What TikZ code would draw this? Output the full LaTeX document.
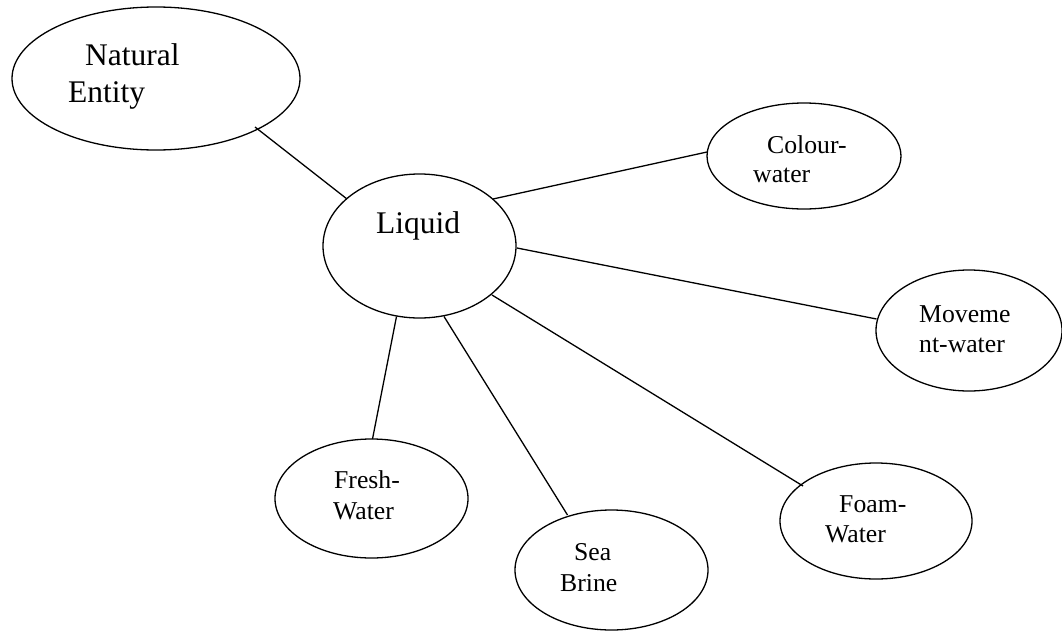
\documentclass[tikz,border=0pt]{standalone}
\usepackage{fontspec}
\setmainfont{Liberation Serif}
\usetikzlibrary{shapes.geometric,calc}
\begin{document}
\begin{tikzpicture}[x=1pt,y=-1pt,
  bubble/.style={draw=black, ellipse, line width=1.3pt, inner sep=0pt, outer sep=0pt},
  bigtxt/.style={anchor=base west, inner sep=0pt, font=\fontsize{31.5}{37}\selectfont},
  smalltxt/.style={anchor=base west, inner sep=0pt, font=\fontsize{25.7}{30}\selectfont},
  link/.style={draw=black, line width=1.3pt}]
\useasboundingbox (0,0) rectangle (1062,632);
% ellipses
\node[bubble, minimum width=288pt, minimum height=143pt] (ne) at (156,78.5) {};
\node[bubble, minimum width=193pt, minimum height=144pt] (liq) at (419.5,246) {};
\node[bubble, minimum width=194pt, minimum height=106pt] (col) at (804,156) {};
\node[bubble, minimum width=186pt, minimum height=121pt] (mov) at (969,330.5) {};
\node[bubble, minimum width=193pt, minimum height=119pt] (fre) at (371.5,498.5) {};
\node[bubble, minimum width=193pt, minimum height=120pt] (sea) at (611.5,570) {};
\node[bubble, minimum width=192pt, minimum height=116pt] (foa) at (876,521) {};
% texts
\node[bigtxt] (t1) at (85,65) {Natural};
\node[bigtxt] (t2) at (68,102) {Entity};
\node[bigtxt] (t3) at (376,233) {Liquid};
\node[smalltxt] (t4) at (767,153) {Colour-};
\node[smalltxt] (t5) at (753,182) {water};
\node[smalltxt] (t6) at (919,322) {Moveme};
\node[smalltxt] (t7) at (919,352) {nt-water};
\node[smalltxt] (t8) at (334,488) {Fresh-};
\node[smalltxt] (t9) at (333,519) {Water};
\node[smalltxt] (t10) at (574,560) {Sea};
\node[smalltxt] (t11) at (560,591) {Brine};
\node[smalltxt] (t12) at (839,512) {Foam-};
\node[smalltxt] (t13) at (825,542) {Water};
% connectors
\draw[link] ($(ne)+(99,48.5)$) -- ($(liq)+(-72.5,-47)$);
\draw[link] ($(liq)+(73.5,-47)$) -- ($(col)+(-97,-4)$);
\draw[link] ($(liq)+(97.5,2)$) -- ($(mov)+(-92.5,-11.5)$);
\draw[link] ($(liq)+(72.5,49)$) -- ($(foa)+(-73,-35)$);
\draw[link] ($(liq)+(24.5,70.5)$) -- ($(sea)+(-44,-55)$);
\draw[link] ($(liq)+(-23,70.5)$) -- ($(fre)+(1,-59.5)$);
\end{tikzpicture}
\end{document}
